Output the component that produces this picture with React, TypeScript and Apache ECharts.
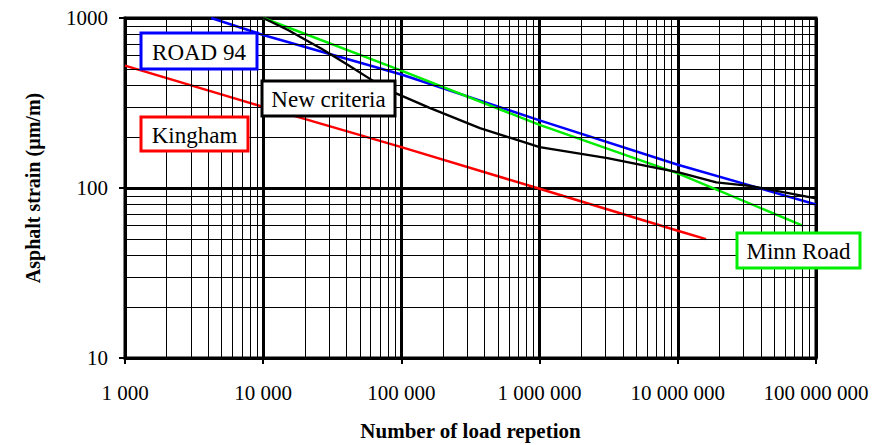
import React, { useEffect, useRef } from "react";
import * as echarts from "echarts";

// Number of load repetitions (x) and asphalt strain in µm/m (y) for each criterion
const road94Reps = [4200, 10000, 100000, 1000000, 10000000, 100000000];
const road94Strain = [1000, 795, 465, 250, 137, 80];

const kinghamReps = [1000, 10000, 100000, 1000000, 10000000, 16000000];
const kinghamStrain = [525, 300, 174, 99, 56, 50];

const minnRoadReps = [10000, 100000, 1000000, 10000000, 80000000];
const minnRoadStrain = [1000, 490, 235, 122, 60];

const newCriteriaReps = [
  10000, 15100, 26600, 41100, 61200, 88000, 110000, 160000, 370000, 1000000,
  3100000, 7100000, 10000000, 19000000, 33000000, 100000000,
];
const newCriteriaStrain = [
  1000, 850, 658, 529, 431, 365, 338, 296, 225, 174, 150, 131, 124, 108, 103, 87,
];

// Log-axis structure
const xDecades = [1000, 10000, 100000, 1000000, 10000000];
const yDecades = [10, 100];
const minorMultipliers = [2, 3, 4, 5, 6, 7, 8, 9];

const xAxisTitle = "Number of load repetion";
const yAxisTitle = "Asphalt strain (µm/m)";

const pairs = (xs: number[], ys: number[]) => xs.map((x, i) => [x, ys[i]]);

const fmtThousands = (v: number) =>
  String(Math.round(v)).replace(/\B(?=(\d{3})+(?!\d))/g, " ");

const SERIF = '"Liberation Serif", "Times New Roman", serif';

export default function App() {
  const ref = useRef<HTMLDivElement>(null);

  useEffect(() => {
    if (!ref.current) return;
    const chart = echarts.init(ref.current, undefined, { renderer: "svg" });

    const minorX: any[] = [];
    xDecades.forEach((d) => minorMultipliers.forEach((m) => minorX.push({ xAxis: d * m })));
    const minorY: any[] = [];
    yDecades.forEach((d) => minorMultipliers.forEach((m) => minorY.push({ yAxis: d * m })));

    const box = (
      text: string,
      x: number,
      y: number,
      w: number,
      h: number,
      color: string
    ) => [
      {
        type: "rect",
        z: 100,
        zlevel: 0,
        shape: { x, y, width: w, height: h },
        style: { fill: "#ffffff", stroke: color, lineWidth: 3 },
      },
      {
        type: "text",
        z: 101,
        zlevel: 0,
        x: x + w / 2,
        y: y + h / 2 + 1,
        style: {
          text,
          align: "center",
          verticalAlign: "middle",
          font: `23px ${SERIF}`,
          fill: "#000",
        },
      },
    ];

    const lineSeries = (name: string, data: number[][], color: string, width: number, z: number) => ({
      name,
      type: "line",
      data,
      showSymbol: false,
      symbol: "none",
      z,
      lineStyle: { color, width },
      silent: true,
    });

    chart.setOption({
      animation: false,
      backgroundColor: "#fff",
      grid: {
        left: 125,
        right: 78,
        top: 18,
        bottom: 87,
        containLabel: false,
        outerBoundsMode: "none",
        show: true,
        borderColor: "#000",
        borderWidth: 3,
        backgroundColor: "transparent",
      },
      xAxis: {
        type: "log",
        logBase: 10,
        min: 1000,
        max: 100000000,
        name: xAxisTitle,
        nameLocation: "middle",
        nameGap: 62,
        nameTextStyle: { fontFamily: SERIF, fontWeight: "bold", fontSize: 21, color: "#000" },
        axisLine: { show: true, lineStyle: { color: "#000", width: 3 } },
        axisTick: { show: true, length: 6, lineStyle: { color: "#000", width: 2 } },
        axisLabel: {
          formatter: (v: number) => fmtThousands(v),
          fontFamily: SERIF,
          fontSize: 21,
          color: "#000",
          margin: 24,
        },
        splitLine: { show: true, lineStyle: { color: "#000", width: 3 } },
        minorTick: { show: false },
      },
      yAxis: {
        type: "log",
        logBase: 10,
        min: 10,
        max: 1000,
        name: yAxisTitle,
        nameLocation: "middle",
        nameGap: 82,
        nameRotate: 90,
        nameTextStyle: { fontFamily: SERIF, fontWeight: "bold", fontSize: 20, color: "#000" },
        axisLine: { show: true, lineStyle: { color: "#000", width: 3 } },
        axisTick: { show: true, length: 6, lineStyle: { color: "#000", width: 2 } },
        axisLabel: {
          formatter: (v: number) => String(Math.round(v)),
          fontFamily: SERIF,
          fontSize: 21,
          color: "#000",
          margin: 17,
        },
        splitLine: { show: true, lineStyle: { color: "#000", width: 3 } },
      },
      series: [
        {
          name: "minor-grid",
          type: "line",
          data: [],
          silent: true,
          z: 1,
          markLine: {
            silent: true,
            symbol: ["none", "none"],
            label: { show: false },
            lineStyle: { color: "#000", width: 1, type: "solid" },
            emphasis: { disabled: true },
            data: [...minorX, ...minorY],
          },
        },
        lineSeries("Kingham", pairs(kinghamReps, kinghamStrain), "#ff0000", 2.5, 3),
        lineSeries("ROAD 94", pairs(road94Reps, road94Strain), "#0000ff", 2.5, 3),
        lineSeries("Minn Road", pairs(minnRoadReps, minnRoadStrain), "#00ee00", 2.5, 4),
        lineSeries("New criteria", pairs(newCriteriaReps, newCriteriaStrain), "#000000", 2.3, 5),
      ],
      graphic: {
        elements: [
          ...box("ROAD 94", 141, 33, 116, 36, "#0000ff"),
          ...box("Kingham", 141, 117, 107, 34, "#ff0000"),
          ...box("New criteria", 262, 81, 133, 35, "#000000"),
          ...box("Minn Road", 737, 233, 123, 35, "#00ee00"),
        ],
      },
    });

    return () => chart.dispose();
  }, []);

  return (
    <div
      ref={ref}
      style={{ position: "absolute", left: 0, top: 0, width: 894, height: 445 }}
    />
  );
}
